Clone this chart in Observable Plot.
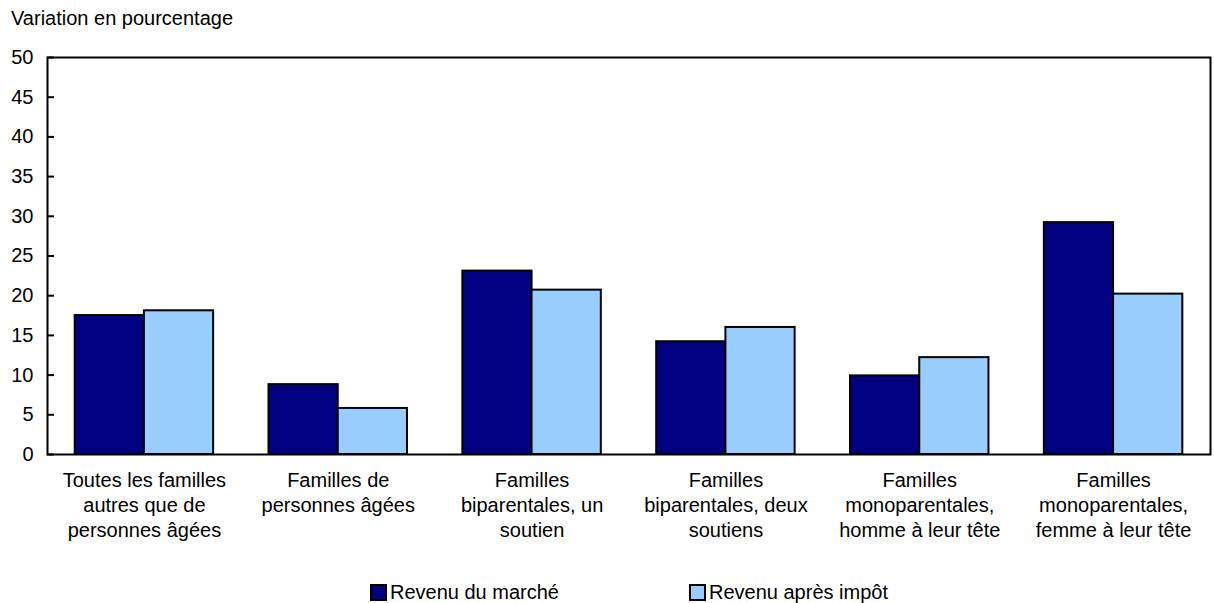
<!DOCTYPE html>
<html>
<head>
<meta charset="utf-8">
<script src="https://cdn.jsdelivr.net/npm/d3@7"></script>
<script src="https://cdn.jsdelivr.net/npm/@observablehq/plot@0.6"></script>
<style>
  html, body { margin: 0; background: #fff; font-family: "Liberation Sans", Arial, sans-serif; color: #000; overflow: hidden; }
  #title { height: 36px; line-height: 36px; padding-left: 11px; font-size: 20px; }
  #chart { height: 524px; }
  #legend { position: relative; height: 43px; font-size: 20px; }
  .item { position: absolute; top: 24px; height: 17px; display: flex; align-items: center; white-space: nowrap; }
  .sw { width: 13px; height: 13px; border: 2px solid #000; margin-right: 3px; }
</style>
</head>
<body>
<div id="title">Variation en pourcentage</div>
<div id="chart"></div>
<div id="legend"></div>
<script>
const categories = [
  "Toutes les familles\nautres que de\npersonnes âgées",
  "Familles de\npersonnes âgées",
  "Familles\nbiparentales, un\nsoutien",
  "Familles\nbiparentales, deux\nsoutiens",
  "Familles\nmonoparentales,\nhomme à leur tête",
  "Familles\nmonoparentales,\nfemme à leur tête"
];
const series = ["Revenu du marché", "Revenu après impôt"];
const marketValues = [17.5, 8.8, 23.1, 14.2, 9.9, 29.2];
const afterTaxValues = [18.1, 5.8, 20.7, 16.0, 12.2, 20.2];
const colors = ["#000080", "#99ccff"];
const yTicks = [0, 5, 10, 15, 20, 25, 30, 35, 40, 45, 50];

const data = [];
categories.forEach((c, i) => {
  data.push({category: c, series: series[0], value: marketValues[i]});
  data.push({category: c, series: series[1], value: afterTaxValues[i]});
});

const chart = Plot.plot({
  width: 1214,
  height: 524,
  marginLeft: 47,
  marginRight: 4,
  marginTop: 21,
  marginBottom: 106,
  style: {fontFamily: "Liberation Sans, Arial, sans-serif", fontSize: "20px", color: "#000", background: "#fff"},
  fx: {domain: categories, padding: 0, round: false, label: null},
  x: {domain: series, paddingInner: 0, paddingOuter: 0.4, round: false, axis: null},
  y: {domain: [0, 50], label: null},
  color: {domain: series, range: colors},
  marks: [
    Plot.barY(data, {fx: "category", x: "series", y: "value", fill: "series", stroke: "#000", strokeWidth: 2}),
    Plot.frame({facet: "super", stroke: "#000", strokeWidth: 2}),
    Plot.axisY({ticks: yTicks, tickSize: -7, strokeWidth: 2, text: null, label: null}),
    Plot.axisY({ticks: yTicks, tickSize: 0, tickPadding: 14, label: null, fontSize: 20}),
    Plot.axisFx({anchor: "bottom", tickSize: 0, tickPadding: 15, lineHeight: 1.25, fontSize: 20, label: null})
  ]
});
document.getElementById("chart").appendChild(chart);

const legend = document.getElementById("legend");
const lefts = [370, 689];
series.forEach((s, i) => {
  const item = document.createElement("div");
  item.className = "item";
  item.style.left = lefts[i] + "px";
  const sw = document.createElement("span");
  sw.className = "sw";
  sw.style.background = colors[i];
  const t = document.createElement("span");
  t.textContent = s;
  item.appendChild(sw);
  item.appendChild(t);
  legend.appendChild(item);
});
</script>
</body>
</html>
